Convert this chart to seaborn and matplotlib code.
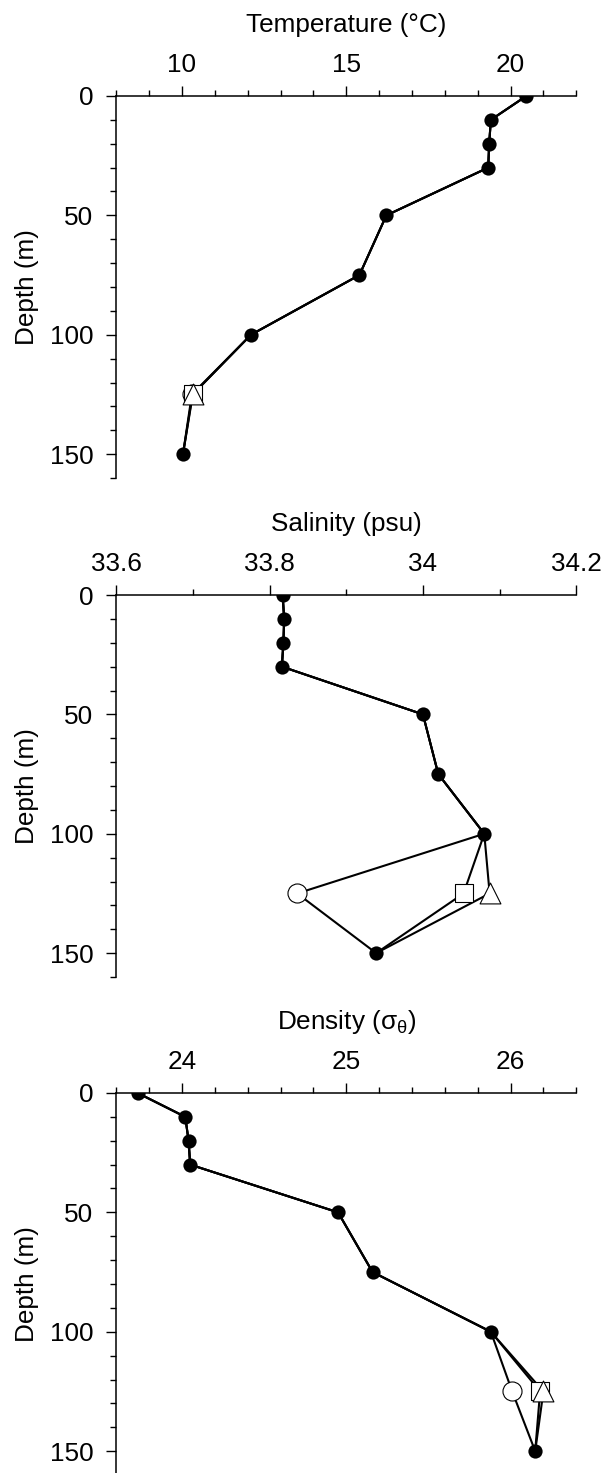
import numpy as np
import pandas as pd
import matplotlib
matplotlib.use("Agg")
import matplotlib.pyplot as plt
import seaborn as sns

# depths of the CTD profile (m), the 125 m bottle replicates are kept apart
depths = [0, 10, 20, 30, 50, 75, 100, 150]
rep_depth = 125
replicates = ['circle', 'square', 'triangle']

temperature = [20.48, 19.4, 19.35, 19.32, 16.22, 15.4, 12.1, 10.03]
temperature_125 = [10.3, 10.32, 10.33]

salinity = [33.817, 33.819, 33.818, 33.816, 34.0, 34.02, 34.08, 33.939]
salinity_125 = [33.836, 34.053, 34.087]

density = [23.73, 24.02, 24.04, 24.05, 24.95, 25.16, 25.88, 26.15]
density_125 = [26.01, 26.18, 26.2]

temp_ticks = [10, 15, 20]
temp_labels = ['10', '15', '20']
sal_ticks = [33.6, 33.8, 34.0, 34.2]
sal_labels = ['33.6', '33.8', '34', '34.2']
dens_ticks = [24, 25, 26]
dens_labels = ['24', '25', '26']
depth_ticks = [0, 50, 100, 150]


def profile_frame(values, values_125):
    frames = []
    for rep, v125 in zip(replicates, values_125):
        d = depths[:7] + [rep_depth] + depths[7:]
        v = values[:7] + [v125] + values[7:]
        frames.append(pd.DataFrame({'depth': d, 'value': v, 'rep': rep}))
    return pd.concat(frames, ignore_index=True)


sns.set_style('ticks')
plt.rcParams['font.family'] = ['Liberation Sans', 'DejaVu Sans']
plt.rcParams['mathtext.fontset'] = 'custom'
plt.rcParams['mathtext.rm'] = 'Liberation Sans'
plt.rcParams['mathtext.it'] = 'Liberation Sans'
for key in ['text.color', 'axes.labelcolor', 'xtick.color', 'ytick.color', 'axes.edgecolor']:
    plt.rcParams[key] = 'black'

FS = 18.8
fig = plt.figure(figsize=(6.05, 14.73), dpi=100)

panels = [
    (temperature, temperature_125, 'Temperature (°C)', (8, 22), temp_ticks, temp_labels, np.arange(8, 22.01, 1), 0.93483),
    (salinity, salinity_125, 'Salinity (psu)', (33.6, 34.2), sal_ticks, sal_labels, np.arange(33.6, 34.21, 0.1), 0.59606),
    (density, density_125, r'Density ($\mathregular{\sigma_\theta}$)', (23.6, 26.4), dens_ticks, dens_labels, np.arange(23.6, 26.41, 0.2), 0.25798),
]

markers = {'circle': ('o', 188), 'square': ('s', 182), 'triangle': ('^', 225)}

for values, values_125, label, xlim, ticks, labels, minors, top in panels:
    h = 0.25934
    ax = fig.add_axes([0.1922, top - h, 0.7603, h])
    df = profile_frame(values, values_125)
    sns.lineplot(data=df, x='value', y='depth', units='rep', estimator=None,
                 sort=False, color='black', lw=1.5, ax=ax, legend=False, zorder=2)
    sns.scatterplot(x=values, y=depths, color='black', s=105, linewidth=0,
                    ax=ax, zorder=3, legend=False)
    for rep, v125 in zip(replicates, values_125):
        m, s = markers[rep]
        sns.scatterplot(x=[v125], y=[rep_depth], marker=m, s=s, facecolor='white',
                        edgecolor='black', linewidth=0.8, ax=ax, zorder=4, legend=False)

    ax.set_xlim(*xlim)
    ax.set_ylim(160, 0)
    ax.xaxis.tick_top()
    ax.xaxis.set_label_position('top')
    ax.set_xticks(ticks)
    ax.set_xticklabels(labels)
    ax.set_xticks(minors, minor=True)
    ax.set_yticks(depth_ticks)
    ax.set_yticklabels([str(t) for t in depth_ticks])
    ax.set_yticks(np.arange(0, 161, 10), minor=True)
    ax.set_xlabel(label, fontsize=FS, labelpad=15)
    ax.set_ylabel('Depth (m)', fontsize=FS, labelpad=8)
    ax.tick_params(which='major', length=7.5, width=1.0, labelsize=FS, direction='out')
    ax.tick_params(axis='x', which='major', pad=6)
    ax.tick_params(axis='y', which='major', pad=9)
    ax.tick_params(which='minor', length=4.3, width=1.0, direction='out')
    for side in ['bottom', 'right']:
        ax.spines[side].set_visible(False)
    for side in ['top', 'left']:
        ax.spines[side].set_linewidth(1.1)
    ax.patch.set_alpha(0)

fig.savefig('out.png', dpi=100)
